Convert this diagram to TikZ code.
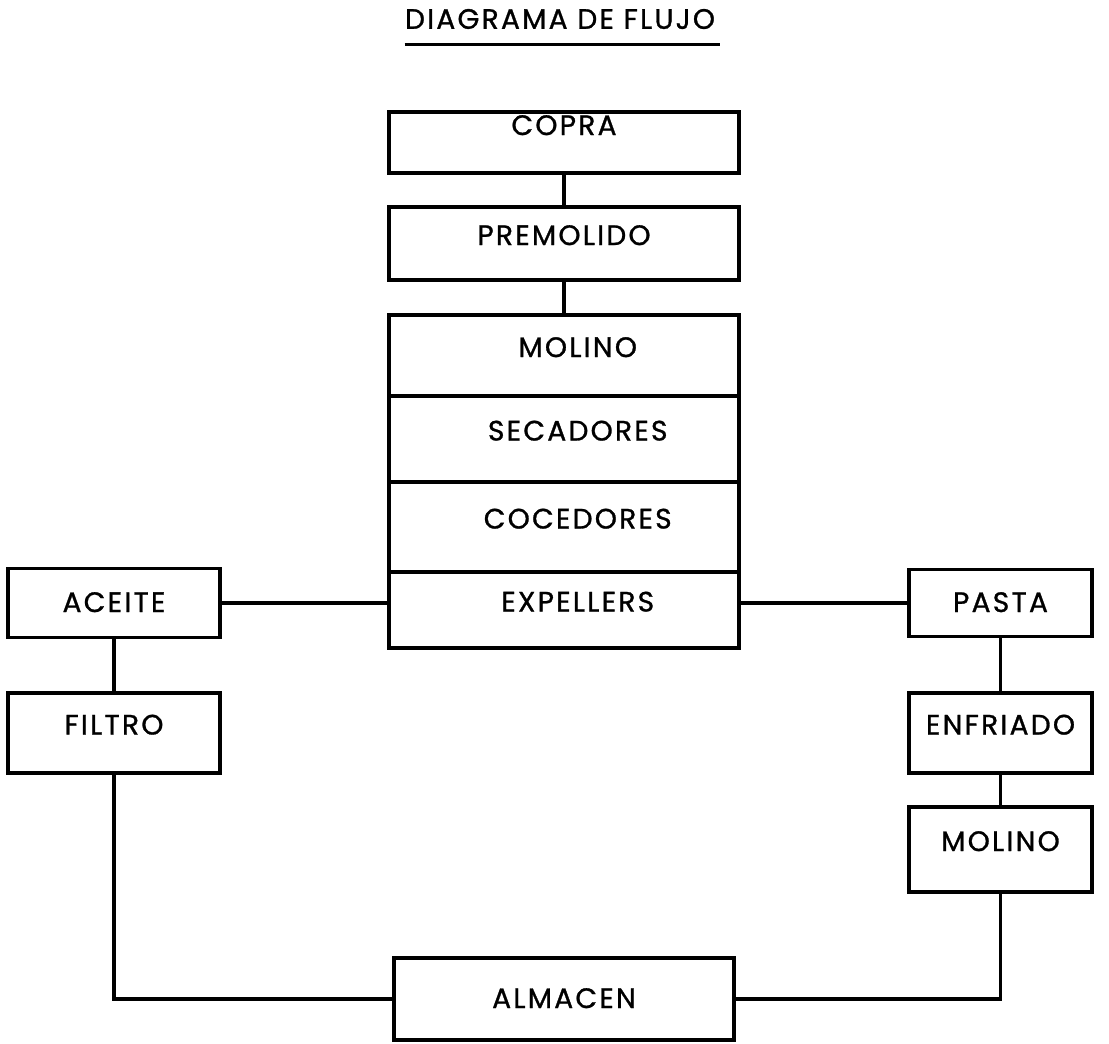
\documentclass[tikz,border=0pt]{standalone}
\usepackage{fontspec}
\setmainfont{Poppins}[LetterSpace=8, FakeBold=1]
\tikzstyle{process} = [rectangle, minimum width=7cm, text centered, draw=black, line width=2pt, inner sep=2pt, font=\fontsize{16}{19}\selectfont, text height=0.22cm, text depth=0.16cm]
\tikzstyle{stack} = [process, execute at begin node={\hspace*{0.55cm}}]
\tikzstyle{side} = [process, minimum width=4.24cm]
\tikzstyle{small} = [process, minimum width=3.66cm]
\tikzstyle{line} = [line width=2pt]

\begin{document}
\begin{tikzpicture}[node distance=2cm]
	\useasboundingbox (0,0) rectangle (22.18,-20.86);

	\node (title) [inner sep=0pt, font=\fontsize{16}{19}\selectfont] at (11.2,-0.38) {DIAGRAMA DE FLUJO};
	\draw [line] ([yshift=-0.3cm]title.south west) -- ([yshift=-0.3cm, xshift=0.1cm]title.south east);

	\node (copra) [process, minimum height=1.22cm, text height=0.05cm, text depth=0.35cm] at (11.28,-2.85) {COPRA};
	\node (premolido) [process, minimum height=1.46cm, below of=copra, yshift=-0.02cm] {PREMOLIDO};

	\node (molino) [stack, minimum height=1.62cm, below of=premolido, yshift=-0.24cm] {MOLINO};
	\node (secadores) [stack, minimum height=1.72cm, below of=molino, yshift=0.33cm] {SECADORES};
	\node (cocedores) [stack, minimum height=1.8cm, below of=secadores, yshift=0.24cm] {COCEDORES};
	\node (expellers) [stack, minimum height=1.52cm, below of=cocedores, yshift=0.34cm] {EXPELLERS};

	\draw [line] (copra) -- (premolido);
	\draw [line] (premolido) -- (molino);

	\node (aceite) [side, minimum height=1.38cm, text height=0.36cm, text depth=0cm, left of=expellers, xshift=-7cm, yshift=0.14cm] {ACEITE};
	\node (filtro) [side, minimum height=1.6cm, below of=aceite, yshift=-0.6cm] {FILTRO};

	\node (pasta) [small, minimum height=1.34cm, text height=0.36cm, text depth=0cm, right of=expellers, xshift=6.73cm, yshift=0.14cm] {PASTA};
	\node (enfriado) [small, minimum height=1.6cm, below of=pasta, yshift=-0.6cm] {ENFRIADO};
	\node (molinob) [small, minimum height=1.7cm, below of=enfriado, yshift=-0.33cm] {MOLINO};

	\draw [line] (aceite.east) -- (aceite.east -| expellers.west);
	\draw [line] (pasta.west) -- (pasta.west -| expellers.east);
	\draw [line] (aceite) -- (filtro);
	\draw [line] (pasta) -- (enfriado);
	\draw [line] (enfriado) -- (molinob);

	\node (almacen) [process, minimum width=6.8cm, minimum height=1.64cm, text height=0.36cm, text depth=0cm, below of=expellers, yshift=-5.78cm] {ALMACEN};

	\draw [line] (filtro) |- (almacen);
	\draw [line] (molinob) |- (almacen);
\end{tikzpicture}
\end{document}
